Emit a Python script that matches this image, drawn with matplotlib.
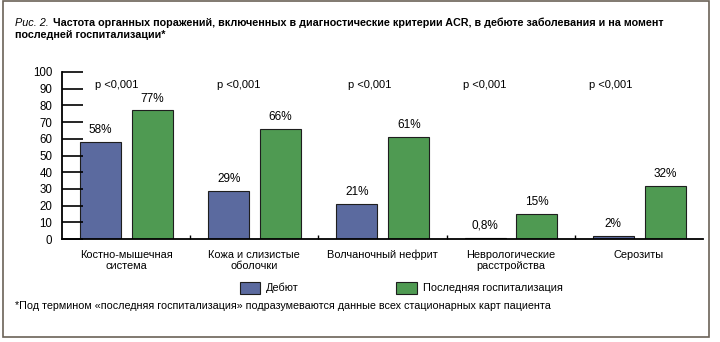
import numpy as np
import matplotlib.pyplot as plt
from matplotlib.patches import Rectangle

categories = ["Костно-мышечная\nсистема", "Кожа и слизистые\nоболочки", "Волчаночный нефрит",
              "Неврологические\nрасстройства", "Серозиты"]
debut = [58, 29, 21, 0.8, 2]
last_hosp = [77, 66, 61, 15, 32]
debut_labels = ["58%", "29%", "21%", "0,8%", "2%"]
last_labels = ["77%", "66%", "61%", "15%", "32%"]
p_values = ["p <0,001"] * 5
p_offsets = [-0.07, -0.125, -0.1, -0.2, -0.22]

plt.rcParams["font.family"] = ["Liberation Sans", "DejaVu Sans"]

blue = "#5b6a9f"
green = "#4f9a52"
edge = "#1e1e1e"

fig = plt.figure(figsize=(7.2, 3.42), dpi=100)
renderer = fig.canvas.get_renderer()


def fit(t, width_px):
    # shrink/grow font so the text spans the given pixel width
    bb = t.get_window_extent(renderer)
    t.set_fontsize(t.get_fontsize() * width_px / bb.width)


ax = fig.add_axes([62 / 720, 1 - 239 / 342, (703 - 62) / 720, 167 / 342])

x = np.arange(len(categories))
w = 0.32
ax.bar(x - 0.2, debut, w, color=blue, edgecolor=edge, linewidth=0.8)
ax.bar(x + 0.205, last_hosp, w, color=green, edgecolor=edge, linewidth=0.8)

for i in range(len(categories)):
    ax.text(x[i] - 0.2, debut[i] + 3.5, debut_labels[i], ha="center", va="bottom", fontsize=8.5)
    ax.text(x[i] + 0.205, last_hosp[i] + 3.5, last_labels[i], ha="center", va="bottom", fontsize=8.5)
    ax.text(x[i] + p_offsets[i], 92, p_values[i], ha="center", va="center", fontsize=8)

ax.set_xlim(-0.5, 4.5)
ax.set_ylim(0, 100)
ax.set_yticks(np.arange(0, 101, 10))
ax.tick_params(axis="y", direction="in", length=15, width=1.2, pad=7, labelsize=8.3)
ax.set_xticks(np.arange(0.5, 4.5, 1))
ax.tick_params(axis="x", direction="in", length=3, width=1, labelbottom=False)
for s in ["top", "right"]:
    ax.spines[s].set_visible(False)
ax.spines["left"].set_linewidth(1.3)
ax.spines["bottom"].set_linewidth(1.3)

for i, c in enumerate(categories):
    ax.text(x[i], -6.5, c, ha="center", va="top", fontsize=7.9, linespacing=1.2)

# legend
fig.patches.append(Rectangle((240 / 720, 1 - 294 / 342), 20 / 720, 12 / 342, transform=fig.transFigure,
                             facecolor=blue, edgecolor=edge, linewidth=0.8))
fig.text(266 / 720, 1 - 288 / 342, "Дебют", ha="left", va="center", fontsize=7.8)
fig.patches.append(Rectangle((396 / 720, 1 - 294 / 342), 21 / 720, 12 / 342, transform=fig.transFigure,
                             facecolor=green, edgecolor=edge, linewidth=0.8))
t_leg = fig.text(423 / 720, 1 - 288 / 342, "Последняя госпитализация", ha="left", va="center", fontsize=8)
fit(t_leg, 140)

# title and footnote
t_fig = fig.text(15 / 720, 1 - 23 / 342, "Рис. 2.", ha="left", va="center", fontsize=8, style="italic")
fit(t_fig, 34)
t1 = fig.text(53 / 720, 1 - 23 / 342,
              "Частота органных поражений, включенных в диагностические критерии ACR, в дебюте заболевания и на момент",
              ha="left", va="center", fontsize=8, weight="bold")
fit(t1, 612)
t2 = fig.text(15 / 720, 1 - 35 / 342, "последней госпитализации*", ha="left", va="center",
              fontsize=t1.get_fontsize(), weight="bold")
t3 = fig.text(15 / 720, 1 - 306 / 342,
              "*Под термином «последняя госпитализация» подразумеваются данные всех стационарных карт пациента",
              ha="left", va="center", fontsize=8)
fit(t3, 532)

# frame
fig.patches.append(Rectangle((3 / 720, 5 / 342), 706 / 720, 336 / 342, transform=fig.transFigure,
                             facecolor="none", edgecolor="#6b6257", linewidth=1.2))

fig.savefig("out.png", dpi=100)
